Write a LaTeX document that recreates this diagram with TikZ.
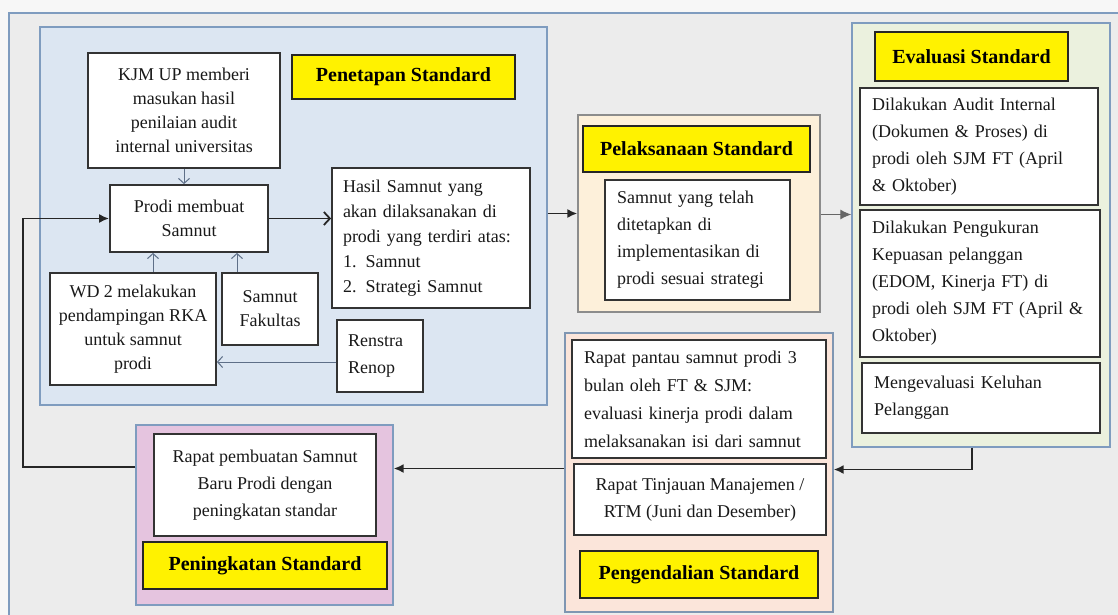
\documentclass[tikz,border=0pt]{standalone}
\usepackage{fontspec}
\setmainfont{Liberation Serif}
\usetikzlibrary{arrows.meta,calc}
\definecolor{bgout}{HTML}{F7F7F7}
\definecolor{bgin}{HTML}{ECECEC}
\definecolor{frameblue}{HTML}{7F9CBF}
\definecolor{penfill}{HTML}{DCE6F2}
\definecolor{pelfill}{HTML}{FDF0DA}
\definecolor{evafill}{HTML}{EBF1DE}
\definecolor{pengfill}{HTML}{FBE5DA}
\definecolor{ningfill}{HTML}{E5C4DF}
\definecolor{arrgray}{HTML}{5E6F88}
\begin{document}
\begin{tikzpicture}[x=1pt,y=-1pt,
  panel/.style={draw=#1, line width=1.3pt, inner sep=0pt},
  box/.style={draw=black!80, fill=white, line width=1.8pt, inner sep=0pt,
    font=\fontsize{18}{27}\selectfont, text=black!90, align=center},
  pbox/.style={box, font=\fontsize{18}{24}\selectfont},
  lbox/.style={box, align=left, inner xsep=12pt, text width=#1},
  plbox/.style={pbox, align=left, inner xsep=11pt, text width=#1},
  label/.style={draw=black!85, fill=yellow, line width=1.5pt, inner sep=0pt,
    font=\fontsize{20}{24}\selectfont\bfseries, text=black},
  oarr/.style={draw=arrgray, line width=1pt, -{Straight Barb[length=5pt,width=11pt]}},
  oarrb/.style={draw=black!85, line width=1.8pt, -{Straight Barb[length=6pt,width=13pt]}},
  farr/.style={draw=black!85, line width=1.8pt, -{Latex[length=10pt,width=9pt]}},
  farrg/.style={draw=black!60, line width=1.2pt, -{Latex[length=11pt,width=10pt]}}
]
% background and outer frame
\fill[bgout] (0,0) rectangle (1118,615);
\useasboundingbox (0,0) rectangle (1118,615);
\draw[fill=bgin, draw=frameblue, line width=1.2pt] (9,13) rectangle (1130,630);

% ---------- panels ----------
\node[panel=frameblue, fill=penfill, minimum width=507pt, minimum height=378pt] (pen) at (293.5,216) {};
\node[panel=black!45, fill=pelfill, minimum width=242pt, minimum height=197pt] (pel) at (699,213.5) {};
\node[panel=frameblue, fill=evafill, minimum width=258pt, minimum height=424pt] (eva) at (981,235) {};
\node[panel=frameblue!80!gray, fill=pengfill, minimum width=268pt, minimum height=279pt] (peng) at (699,472.5) {};
\node[panel=frameblue, fill=ningfill, minimum width=257pt, minimum height=180pt] (ning) at (264.5,515) {};

% ---------- Penetapan Standard ----------
\node[pbox, minimum width=192pt, minimum height=115pt] (kjm) at (184,110.5)
  {KJM UP memberi\\masukan hasil\\penilaian audit\\internal universitas};
\node[label, minimum width=223pt, minimum height=44pt] (penlab) at (403.5,77) {Penetapan Standard};
\node[pbox, minimum width=158pt, minimum height=67pt] (prodi) at (189,218.5)
  {Prodi membuat\\Samnut};
\node[plbox=176pt, minimum width=198pt, minimum height=140pt, font=\fontsize{18}{25}\selectfont] (hasil) at (431,238)
  {Hasil Samnut yang\\akan dilaksanakan di\\prodi yang terdiri atas:\\1.\enspace Samnut\\2.\enspace Strategi Samnut};
\node[pbox, minimum width=166pt, minimum height=112pt] (wd) at (133,329)
  {WD 2 melakukan\\pendampingan RKA\\untuk samnut\\prodi};
\node[pbox, minimum width=96pt, minimum height=72pt] (samfak) at (270,309)
  {Samnut\\Fakultas};
\node[plbox=64pt, minimum width=86pt, minimum height=72pt, font=\fontsize{18}{27}\selectfont] (renstra) at (380,356)
  {Renstra\\Renop};

% ---------- Pelaksanaan Standard ----------
\node[label, minimum width=227pt, minimum height=46pt] (pellab) at (696.5,149) {Pelaksanaan Standard};
\node[lbox=161pt, minimum width=185pt, minimum height=120pt] (pelbox) at (697.5,240)
  {Samnut yang telah\\ditetapkan di\\implementasikan di\\prodi sesuai strategi};

% ---------- Evaluasi Standard ----------
\node[label, minimum width=193pt, minimum height=49pt] (evalab) at (971.5,56.5) {Evaluasi Standard};
\node[lbox=214pt, minimum width=238pt, minimum height=117pt] (eva1) at (979,146.5)
  {Dilakukan Audit Internal\\(Dokumen \& Proses) di\\prodi oleh SJM FT (April\\\& Oktober)};
\node[lbox=216pt, minimum width=240pt, minimum height=147pt] (eva2) at (980,283.5)
  {Dilakukan Pengukuran\\Kepuasan pelanggan\\(EDOM, Kinerja FT) di\\prodi oleh SJM FT (April \&\\Oktober)};
\node[lbox=214pt, minimum width=238pt, minimum height=70pt] (eva3) at (981,398)
  {Mengevaluasi Keluhan\\Pelanggan};

% ---------- Pengendalian Standard ----------
\node[lbox=230pt, minimum width=254pt, minimum height=118pt, font=\fontsize{18}{28}\selectfont] (pantau) at (699,399)
  {Rapat pantau samnut prodi 3\\bulan oleh FT \& SJM:\\evaluasi kinerja prodi dalam\\melaksanakan isi dari samnut};
\node[box, minimum width=252pt, minimum height=71pt] (rtm) at (700,499.5)
  {Rapat Tinjauan Manajemen /\\RTM (Juni dan Desember)};
\node[label, minimum width=238pt, minimum height=47pt] (penglab) at (699,574.5) {Pengendalian Standard};

% ---------- Peningkatan Standard ----------
\node[box, minimum width=222pt, minimum height=102pt] (rapat) at (265,485)
  {Rapat pembuatan Samnut\\Baru Prodi dengan\\peningkatan standar};
\node[label, minimum width=244pt, minimum height=47pt] (ninglab) at (265,565.5) {Peningkatan Standard};

% ---------- connectors ----------
\draw[oarr] (kjm.south) -- (kjm.south |- prodi.north);
\draw[oarr] ([xshift=20pt]wd.north) -- ([xshift=20pt]wd.north |- prodi.south);
\draw[oarr] ([xshift=-33pt]samfak.north) -- ([xshift=-33pt]samfak.north |- prodi.south);
\draw[oarrb] (prodi.east) -- (prodi.east -| hasil.west);
\draw[oarr] ([yshift=-6pt]renstra.west) -- ([yshift=-6pt]renstra.west -| wd.east);
\draw[farr] ([yshift=48pt]ning.west) -- ++(-112,0) |- (prodi.west);
\draw[farr] (pel.west -| pen.east) -- (pel.west);
\draw[farrg] ([yshift=-1pt]pel.east) -- ([yshift=-1pt]pel.east -| eva.west);
\draw[farr] ([xshift=-9pt]eva.south) |- ([yshift=3pt]peng.east);
\draw[farr] ([yshift=4pt]peng.west) -- ([yshift=4pt]peng.west -| ning.east);
\end{tikzpicture}
\end{document}
